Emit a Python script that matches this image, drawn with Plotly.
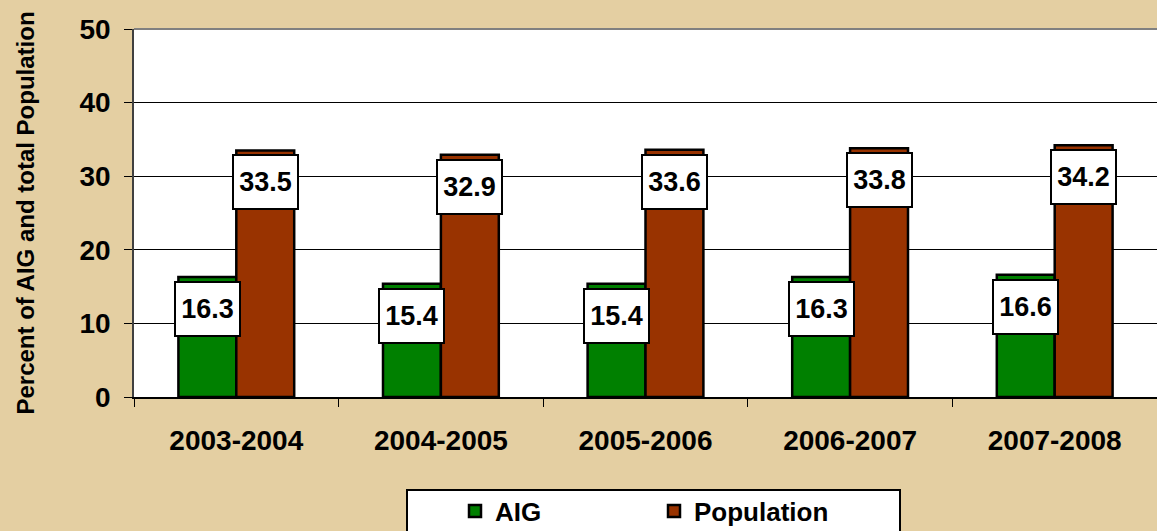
import plotly.graph_objects as go

# Chart data
seasons = ["2003-2004", "2004-2005", "2005-2006", "2006-2007", "2007-2008"]
aig_pct = [16.3, 15.4, 15.4, 16.3, 16.6]
population_pct = [33.5, 32.9, 33.6, 33.8, 34.2]
y_tick_values = [0, 10, 20, 30, 40, 50]

# Layout constants (pixels)
W, H = 1157, 531
M_L, M_R, M_T, M_B = 134, 0, 29, 134
PLOT_W = W - M_L - M_R
PLOT_H = H - M_T - M_B

GREEN = "#008000"
BROWN = "#993300"
BG = "#E4CFA2"
FONT = "Liberation Sans, Arial, sans-serif"

BAR_GAP = 0.434
bar_w = (1 - BAR_GAP) / 2

fig = go.Figure()
fig.add_bar(
    name="AIG", x=seasons, y=aig_pct,
    marker=dict(color=GREEN, line=dict(color="black", width=2.5)),
)
fig.add_bar(
    name="Population", x=seasons, y=population_pct,
    marker=dict(color=BROWN, line=dict(color="black", width=2.5)),
)

# Value labels in white boxes just inside the top of each bar
for i, (a, p) in enumerate(zip(aig_pct, population_pct)):
    for xoff, v in ((-bar_w / 2, a), (bar_w / 2, p)):
        fig.add_annotation(
            x=i + xoff, y=v, xref="x", yref="y",
            text=f"{v:.1f}", showarrow=False,
            yanchor="top", yshift=-4,
            bgcolor="white", bordercolor="black", borderwidth=2, borderpad=2,
            width=59, height=48,
            font=dict(family=FONT, size=27, color="black", weight="bold"),
        )

def px_x(px):
    return (px - M_L) / PLOT_W

def px_y(py):
    return (H - M_B - py) / PLOT_H

# Top border of the plot area
fig.add_shape(type="line", xref="paper", yref="paper", x0=0, x1=1, y0=1, y1=1,
              line=dict(color="#808080", width=2), layer="above")

# Legend frame
fig.add_shape(type="rect", xref="paper", yref="paper",
              x0=px_x(407), x1=px_x(900), y0=px_y(540), y1=px_y(490),
              fillcolor="white", line=dict(color="black", width=2), layer="above")

fig.update_layout(
    width=W, height=H, autosize=False,
    margin=dict(l=M_L, r=M_R, t=M_T, b=M_B, pad=0, autoexpand=False),
    paper_bgcolor=BG, plot_bgcolor="white",
    barmode="group", bargap=BAR_GAP, bargroupgap=0,
    font=dict(family=FONT, color="black"),
    showlegend=True,
    legend=dict(
        orientation="h", x=px_x(455), xanchor="left", y=px_y(511), yanchor="middle",
        bgcolor="rgba(0,0,0,0)", borderwidth=0,
        entrywidth=154, entrywidthmode="pixels",
        font=dict(family=FONT, size=26, color="black", weight="bold"),
    ),
    xaxis=dict(
        range=[-0.5, 4.5], showgrid=False, automargin=False,
        showline=True, linecolor="black", linewidth=1.5,
        ticks="outside", tickson="boundaries", ticklen=8, tickcolor="black", tickwidth=1,
        tickfont=dict(family=FONT, size=28, color="black", weight="bold"),
        ticklabelstandoff=18,
    ),
    yaxis=dict(
        range=[0, 50], tickvals=y_tick_values, automargin=False,
        showgrid=True, gridcolor="black", gridwidth=1,
        showline=True, linecolor="#404040", linewidth=1.5,
        ticks="outside", ticklen=8, tickcolor="black", tickwidth=1,
        tickfont=dict(family=FONT, size=28, color="black", weight="bold"),
        ticklabelstandoff=8,
        zeroline=False,
        title=dict(text="Percent of AIG and total Population", standoff=38,
                   font=dict(family=FONT, size=24, color="black", weight="bold")),
    ),
)

fig.write_html("out.html")
